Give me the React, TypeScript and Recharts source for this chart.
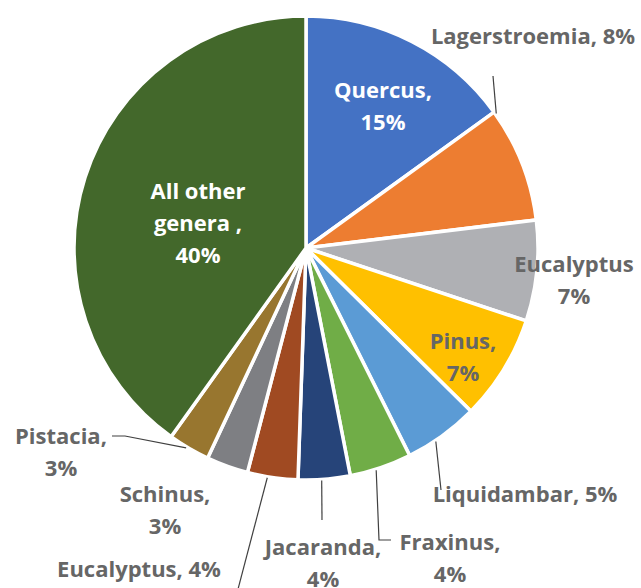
import React from 'react';
import { PieChart, Pie, Cell } from 'recharts';

const genera = ['Quercus', 'Lagerstroemia', 'Eucalyptus', 'Pinus', 'Liquidambar', 'Fraxinus', 'Jacaranda', 'Eucalyptus', 'Schinus', 'Pistacia', 'All other genera '];
const shares = [15, 8, 7, 7.3, 5.2, 4.3, 3.6, 3.5, 2.9, 2.9, 40];
const colors = ['#4472C4', '#ED7D31', '#AFB0B4', '#FFC000', '#5B9BD5', '#70AD47', '#264479', '#A04A22', '#7E7F83', '#98762F', '#43682B'];

const data = genera.map((name, i) => ({ name, value: shares[i] }));

type Layout = {
  lines: 'split' | 'one' | 'three';
  x: number; // text center offset from cx
  y: number; // first line center offset from cy
  white?: boolean;
  leader?: { t: number; pts: [number, number][] };
};

const layouts: Layout[] = [
  { lines: 'split', x: 77, y: -159, white: true },
  { lines: 'one', x: 227, y: -213, leader: { t: 0.02, pts: [[187, -172]] } },
  { lines: 'split', x: 268, y: 15 },
  { lines: 'split', x: 157, y: 92 },
  { lines: 'one', x: 219, y: 245, leader: { t: 0.61, pts: [[135, 242]] } },
  { lines: 'split', x: 144, y: 293, leader: { t: 0.58, pts: [[73, 292], [85, 292]] } },
  { lines: 'split', x: 17, y: 298, leader: { t: 0.55, pts: [[16, 272]] } },
  { lines: 'one', x: -167, y: 320, leader: { t: 0.6, pts: [[-69, 345]] } },
  { lines: 'split', x: -141, y: 245 },
  { lines: 'split', x: -245, y: 187, leader: { t: 0.56, pts: [[-181, 188], [-194, 188]] } },
  { lines: 'three', x: -108, y: -58, white: true },
];

const RAD = Math.PI / 180;
const LH = 32;

const renderLabel = (props: any) => {
  const { cx, cy, outerRadius, startAngle, endAngle, index, value, name } = props;
  const L = layouts[index];
  const pct = `${Math.round(value)}%`;
  const fill = L.white ? '#FFFFFF' : '#666666';
  let lines: string[];
  if (L.lines === 'one') lines = [`${name}, ${pct}`];
  else if (L.lines === 'three') lines = ['All other', 'genera ,', pct];
  else lines = [index === 2 ? name : `${name},`, pct];
  let leader = null;
  if (L.leader) {
    const a = startAngle + L.leader.t * (endAngle - startAngle);
    const r = outerRadius + 1;
    const sx = cx + r * Math.cos(a * RAD);
    const sy = cy - r * Math.sin(a * RAD);
    const pts = [[sx, sy], ...L.leader.pts.map(([dx, dy]) => [cx + dx, cy + dy])];
    leader = <polyline points={pts.map((p) => p.join(',')).join(' ')} fill="none" stroke="#404040" strokeWidth={1.2} />;
  }
  return (
    <g key={`lab-${index}`}>
      {leader}
      {lines.map((s, k) => (
        <text key={k} x={cx + L.x} y={cy + L.y + k * LH} textAnchor="middle" dominantBaseline="central"
          fill={fill} fontFamily="'Open Sans', 'Noto Sans', sans-serif" fontWeight={700} fontSize={22}>
          {s}
        </text>
      ))}
    </g>
  );
};

export default function App() {
  return (
    <div style={{ position: 'absolute', left: 0, top: 0, width: 641, height: 588, background: '#fff' }}>
      <PieChart width={641} height={588} margin={{ top: 0, right: 0, bottom: 0, left: 0 }}>
        <Pie data={data} dataKey="value" nameKey="name" cx={306} cy={248} outerRadius={232} innerRadius={0}
          startAngle={90} endAngle={-270} stroke="#FFFFFF" strokeWidth={3.5}
          label={renderLabel} labelLine={false} isAnimationActive={false}>
          {data.map((d, i) => <Cell key={i} fill={colors[i]} />)}
        </Pie>
      </PieChart>
    </div>
  );
}
